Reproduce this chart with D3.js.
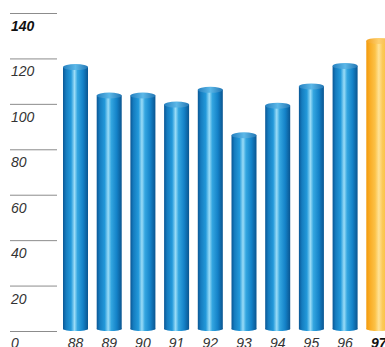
<!DOCTYPE html>
<html>
<head>
<meta charset="utf-8">
<script src="https://cdn.jsdelivr.net/npm/d3@7"></script>
<style>
body{margin:0;background:#fff;overflow:hidden;}
text{font-family:"Liberation Sans",Arial,sans-serif;font-style:italic;}
</style>
</head>
<body>
<script>
var years=['88','89','90','91','92','93','94','95','96','97'];
var values=[117.5,105,105,101,107.5,87.5,100.5,109,118,129];
var yTicks=[0,20,40,60,80,100,120,140];

var width=385,height=347;
var svg=d3.select('body').append('svg')
.attr('width',width)
.attr('height',height);

var defs=svg.append('defs');
function grad(id,stops){
    var g=defs.append('linearGradient').attr('id',id)
    .attr('x1','0%').attr('x2','100%').attr('y1','0%').attr('y2','0%');
    stops.forEach(function(s){
        g.append('stop').attr('offset',s[0]).attr('stop-color',s[1]);
    });
}
grad('blueBar',[['0%','#0a5795'],['12%','#157cbf'],['32%','#2399da'],['46%','#9adcf7'],['58%','#34a6e0'],['80%','#1482c8'],['100%','#0a5590']]);
grad('blueCap',[['0%','#2580c0'],['50%','#5cb8e8'],['100%','#2276b4']]);
grad('orangeBar',[['0%','#f39a0c'],['15%','#f9ad26'],['35%','#fcc247'],['50%','#ffe296'],['65%','#fcca58'],['100%','#f7b22e']]);
grad('orangeCap',[['0%','#f5a11c'],['50%','#fdd070'],['100%','#f7b23a']]);

var x=d3.scaleBand()
.domain(years)
.range([63,391.3])
.paddingInner(0.258)
.paddingOuter(0);

var y=d3.scaleLinear()
.domain([0,140])
.range([331,13]);

// gridlines + labels
var grid=svg.append('g');
grid.selectAll('line')
.data(yTicks)
.enter()
.append('line')
.attr('x1',10)
.attr('x2',57)
.attr('y1',d=>y(d)+0.5)
.attr('y2',d=>y(d)+0.5)
.style('stroke','#8c8c8c')
.style('stroke-width',1);

grid.selectAll('text')
.data(yTicks)
.enter()
.append('text')
.attr('x',11)
.attr('y',d=>d==0?348:y(d)+18)
.style('font-size','14px')
.style('font-weight',d=>d==140?'bold':'normal')
.style('fill',d=>d==140?'#111':'#333')
.text(d=>d);

// bars
var bw=x.bandwidth();
var bars=svg.append('g').selectAll('g')
.data(years)
.enter()
.append('g');

bars.append('rect')
.attr('x',d=>x(d))
.attr('y',(d,i)=>y(values[i])+3)
.attr('width',bw)
.attr('height',(d,i)=>y(0)-y(values[i])-5)
.style('fill',d=>d=='97'?'url(#orangeBar)':'url(#blueBar)');

// rounded bottom
bars.append('ellipse')
.attr('cx',d=>x(d)+bw/2)
.attr('cy',y(0)-2)
.attr('rx',bw/2)
.attr('ry',2)
.style('fill',d=>d=='97'?'url(#orangeBar)':'url(#blueBar)');

// top cap
bars.append('ellipse')
.attr('cx',d=>x(d)+bw/2)
.attr('cy',(d,i)=>y(values[i])+3)
.attr('rx',bw/2)
.attr('ry',3)
.style('fill',d=>d=='97'?'url(#orangeCap)':'url(#blueCap)');

// x labels
svg.append('g').selectAll('text')
.data(years)
.enter()
.append('text')
.attr('x',d=>x(d)+bw/2)
.attr('y',348)
.attr('text-anchor','middle')
.style('font-size','14px')
.style('font-weight',d=>d=='97'?'bold':'normal')
.style('fill',d=>d=='97'?'#111':'#333')
.text(d=>d);
</script>
</body>
</html>
